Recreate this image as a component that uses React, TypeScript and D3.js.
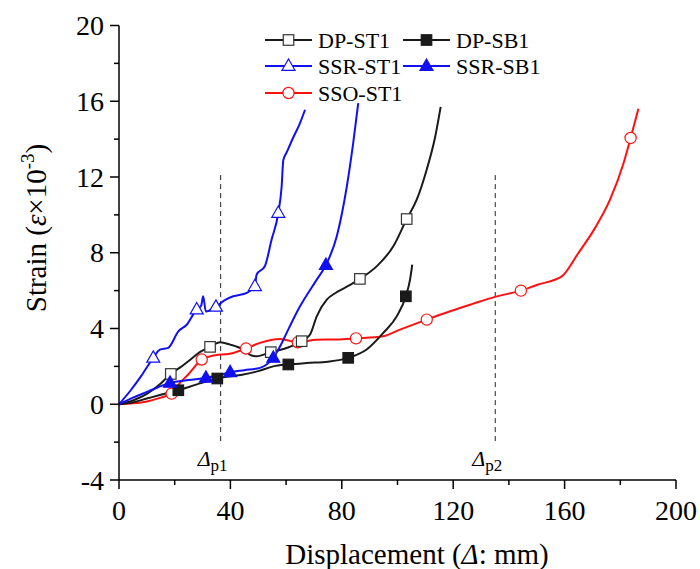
import React from "react";
import * as d3 from "d3";

const W = 700;
const H = 569;

const xTicks = [0, 40, 80, 120, 160, 200];
const yTicks = [-4, 0, 4, 8, 12, 16, 20];
const xMinor = [20, 60, 100, 140, 180];
const yMinor = [-2, 2, 6, 10, 14, 18];

const dpST1Line: [number, number][] = [[0,0],[5,0.2],[10,0.55],[15,1.1],[18.6,1.6],[22,1.95],[26,2.4],[29,2.75],[32.7,3.03],[36.3,3.27],[39.9,3.15],[44.6,2.89],[47.6,2.57],[49.4,2.53],[54.5,2.75],[60.2,2.97],[65.6,3.33],[68.6,3.68],[71,4.64],[74.6,5.52],[78,5.9],[83,6.3],[86.5,6.62],[92.5,7.28],[98.5,8.34],[103.3,9.78],[106.9,10.8],[110.5,12.4],[113.5,14.1],[115.5,15.7]];
const dpST1Marks: [number, number][] = [[18.6,1.6],[32.7,3.03],[54.5,2.75],[65.6,3.33],[86.5,6.62],[103.3,9.78]];

const dpSB1Line: [number, number][] = [[0,0],[5,0.1],[10,0.3],[15,0.5],[21.3,0.74],[28,1.05],[35.3,1.36],[44.6,1.57],[50,1.75],[55.4,2.0],[60.8,2.1],[67.4,2.18],[75,2.25],[82.3,2.45],[88.9,2.89],[94.9,3.77],[99.7,4.64],[103,5.7],[104.5,6.58],[105.3,7.37]];
const dpSB1Marks: [number, number][] = [[21.3,0.74],[35.3,1.36],[60.8,2.1],[82.3,2.45],[103,5.7]];

const ssrST1Line: [number, number][] = [[0,0],[4,0.7],[8,1.5],[12.3,2.45],[14.7,2.88],[17.7,2.98],[21.3,3.85],[24.3,4.2],[27.9,5.0],[29.5,5.2],[30.2,5.7],[31.2,4.9],[34.8,5.14],[38,5.5],[41,5.7],[45.9,5.88],[48.8,6.23],[49.4,6.84],[52.4,7.3],[54.8,8.7],[57.2,10.1],[58.4,11.5],[59,12.9],[60.2,13.3],[62.6,14.1],[65,14.85],[66.8,15.55]];
const ssrST1Marks: [number, number][] = [[12.3,2.45],[27.9,5.0],[34.8,5.14],[48.8,6.23],[57.2,10.1]];

const ssrSB1Line: [number, number][] = [[0,0],[5,0.35],[10,0.65],[14,0.9],[18.3,1.13],[25,1.28],[31.2,1.39],[35,1.5],[39.9,1.69],[45,1.8],[50.6,1.92],[53,2.1],[55.4,2.45],[58,3.1],[60.2,3.77],[65,5.17],[71,6.58],[74.3,7.35],[78.2,8.87],[81.8,11.5],[84.1,13.8],[85.9,15.9]];
const ssrSB1Marks: [number, number][] = [[18.3,1.13],[31.2,1.39],[39.9,1.69],[55.4,2.45],[74.3,7.35]];

const ssoST1Line: [number, number][] = [[0,0],[5,0.05],[10,0.15],[15,0.35],[18.9,0.56],[21.9,1.13],[25,1.6],[29.7,2.36],[32.7,2.53],[41,2.71],[45.6,2.94],[50.6,3.24],[57.8,3.45],[64.2,3.27],[71,3.41],[78,3.42],[85.1,3.48],[94.9,3.59],[100.9,3.94],[110.5,4.47],[118.9,4.91],[127,5.3],[135,5.67],[144.3,6.0],[150,6.3],[159,6.75],[165,8],[170.9,9.3],[176.3,10.8],[181.1,12.7],[183.7,14.06],[186.5,15.6]];
const ssoST1Marks: [number, number][] = [[18.9,0.56],[29.7,2.36],[45.6,2.94],[64.2,3.27],[85.1,3.48],[110.5,4.47],[144.3,6.0],[183.7,14.06]];

const refLinesX = [36.5, 135.1];
const refLabels = ["p1", "p2"];

const BLACK = "#1a1a1a";
const BLUE = "#1010f0";
const RED = "#ff1010";
const FONT = "Liberation Serif, Times New Roman, DejaVu Serif, serif";

type Shape = "square" | "triangle" | "circle";
interface Series {
  name: string;
  line: [number, number][];
  marks: [number, number][];
  color: string;
  shape: Shape;
  filled: boolean;
}

const series: Series[] = [
  { name: "SSO-ST1", line: ssoST1Line, marks: ssoST1Marks, color: RED, shape: "circle", filled: false },
  { name: "DP-ST1", line: dpST1Line, marks: dpST1Marks, color: BLACK, shape: "square", filled: false },
  { name: "DP-SB1", line: dpSB1Line, marks: dpSB1Marks, color: BLACK, shape: "square", filled: true },
  { name: "SSR-ST1", line: ssrST1Line, marks: ssrST1Marks, color: BLUE, shape: "triangle", filled: false },
  { name: "SSR-SB1", line: ssrSB1Line, marks: ssrSB1Marks, color: BLUE, shape: "triangle", filled: true },
];

const legendOrder = ["DP-ST1", "DP-SB1", "SSR-ST1", "SSR-SB1", "SSO-ST1"];

function Marker({ x, y, s }: { x: number; y: number; s: Series }) {
  const fill = s.filled ? s.color : "#fff";
  if (s.shape === "square") {
    const a = 10.5;
    return <rect x={x - a / 2} y={y - a / 2} width={a} height={a} fill={fill} stroke={s.filled ? s.color : "#333"} strokeWidth={1.2} />;
  }
  if (s.shape === "circle") {
    return <circle cx={x} cy={y} r={5.6} fill={fill} stroke={s.color} strokeWidth={1.2} />;
  }
  const a = 13;
  const h = a * 0.87;
  const p = `M${x},${y - h * 0.62}L${x + a / 2},${y + h * 0.38}L${x - a / 2},${y + h * 0.38}Z`;
  return <path d={p} fill={fill} stroke={s.color} strokeWidth={1.2} />;
}

export default function App() {
  const x = d3.scaleLinear().domain([0, 200]).range([119, 676]);
  const y = d3.scaleLinear().domain([-4, 20]).range([480, 25.5]);
  const line = d3
    .line<[number, number]>()
    .x((d) => x(d[0]))
    .y((d) => y(d[1]))
    .curve(d3.curveMonotoneX);

  const legendPos = [
    { lx: 265, ly: 40 },
    { lx: 403, ly: 40 },
    { lx: 265, ly: 66 },
    { lx: 403, ly: 66 },
    { lx: 265, ly: 93 },
  ];

  const tf = { fontFamily: FONT };

  return (
    <svg width={W} height={H} style={{ position: "absolute", left: 0, top: 0, background: "#fff", fontFamily: FONT }}>
      <rect width={W} height={H} fill="#fff" />
      {refLinesX.map((v, i) => (
        <g key={"ref" + i}>
          <line x1={x(v)} x2={x(v)} y1={y(12.1)} y2={y(-2.15)} stroke="#222" strokeWidth={1} strokeDasharray="5,4" />
          <text x={x(v) - 23} y={466} fontSize={22} fill="#000" style={tf}>
            <tspan fontStyle="italic">Δ</tspan>
            <tspan fontSize={17} dy={5}>{refLabels[i]}</tspan>
          </text>
        </g>
      ))}
      {series.map((s) => (
        <path key={s.name + "l"} d={line(s.line) || ""} fill="none" stroke={s.color} strokeWidth={2} strokeLinejoin="round" />
      ))}
      {series.map((s) => (
        <g key={s.name + "m"}>
          {s.marks.map((d, i) => (
            <Marker key={i} x={x(d[0])} y={y(d[1])} s={s} />
          ))}
        </g>
      ))}
      <line x1={119} x2={119} y1={y(20)} y2={y(-4)} stroke="#000" strokeWidth={1.5} />
      <line x1={119} x2={x(200)} y1={y(-4)} y2={y(-4)} stroke="#000" strokeWidth={1.5} />
      {yTicks.map((t) => (
        <g key={"yt" + t}>
          <line x1={110} x2={119} y1={y(t)} y2={y(t)} stroke="#000" strokeWidth={1.5} />
          <text x={104} y={y(t) + 9.5} fontSize={28} textAnchor="end" fill="#000" style={tf}>{t}</text>
        </g>
      ))}
      {yMinor.map((t) => (
        <line key={"ym" + t} x1={114} x2={119} y1={y(t)} y2={y(t)} stroke="#000" strokeWidth={1.5} />
      ))}
      {xTicks.map((t) => (
        <g key={"xt" + t}>
          <line x1={x(t)} x2={x(t)} y1={y(-4)} y2={y(-4) + 9} stroke="#000" strokeWidth={1.5} />
          <text x={x(t)} y={520} fontSize={28} textAnchor="middle" fill="#000" style={tf}>{t}</text>
        </g>
      ))}
      {xMinor.map((t) => (
        <line key={"xm" + t} x1={x(t)} x2={x(t)} y1={y(-4)} y2={y(-4) + 5} stroke="#000" strokeWidth={1.5} />
      ))}
      <text x={417} y={564} fontSize={29} textAnchor="middle" fill="#000" style={tf}>
        Displacement (<tspan fontStyle="italic">Δ</tspan>: mm)
      </text>
      <text transform="translate(46,228) rotate(-90)" fontSize={29} textAnchor="middle" fill="#000" style={tf}>
        Strain (<tspan fontStyle="italic">ε</tspan>×10<tspan fontSize={19} dy={-12}>-3</tspan><tspan dy={12}>)</tspan>
      </text>
      {legendOrder.map((n, i) => {
        const s = series.find((q) => q.name === n)!;
        const p = legendPos[i];
        return (
          <g key={"lg" + n}>
            <line x1={p.lx} x2={p.lx + 47} y1={p.ly} y2={p.ly} stroke={s.color} strokeWidth={2} />
            <Marker x={p.lx + 23.5} y={p.ly} s={s} />
            <text x={p.lx + 53} y={p.ly + 7.5} fontSize={22} fill="#000" style={tf}>{n}</text>
          </g>
        );
      })}
    </svg>
  );
}
